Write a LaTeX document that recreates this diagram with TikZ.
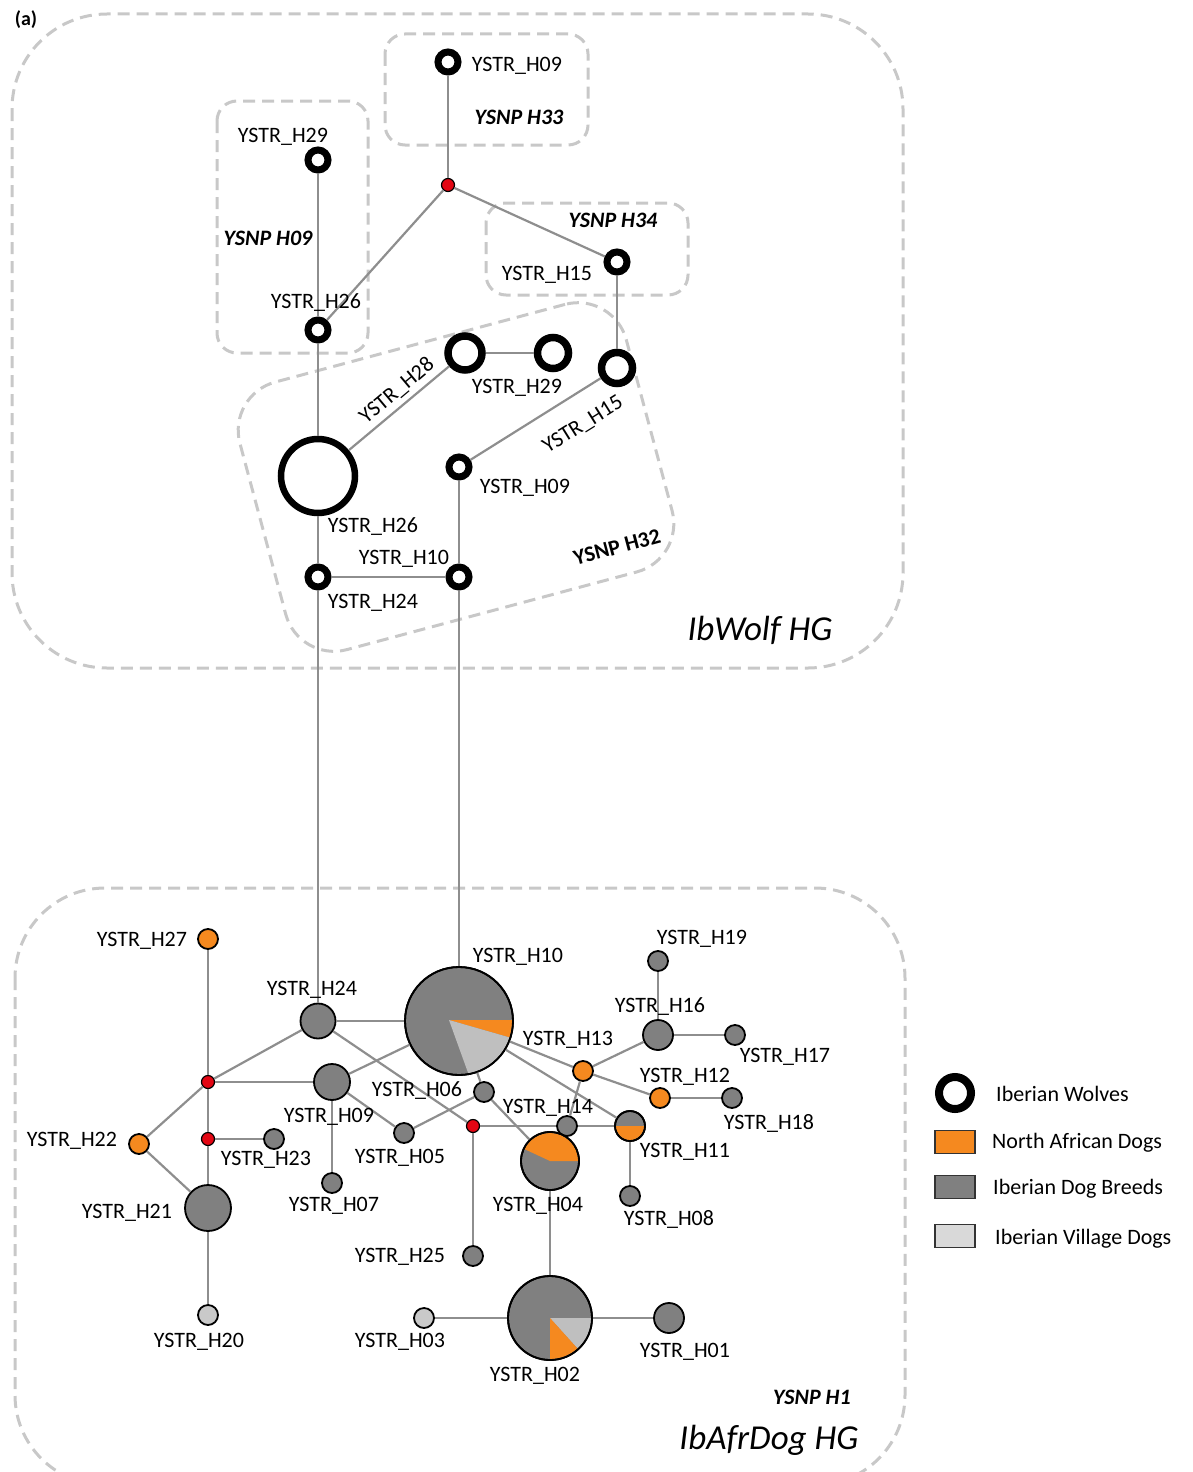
\documentclass[tikz,border=0pt]{standalone}
\usepackage{fontspec}
\usetikzlibrary{calc}
\setmainfont{Carlito}
\definecolor{boxgray}{HTML}{C8C8C8}
\definecolor{edgegray}{HTML}{8E8E8E}
\definecolor{dgray}{HTML}{808080}
\definecolor{lgray}{HTML}{BFBFBF}
\definecolor{vgray}{HTML}{C9C9C9}
\definecolor{leglgray}{HTML}{D9D9D9}
\definecolor{orng}{HTML}{F5891F}
\definecolor{redn}{HTML}{E30613}
\begin{document}
\begin{tikzpicture}[x=1pt,y=-1pt,
  box/.style={draw=boxgray, line width=3pt, dash pattern=on 12pt off 7pt},
  edge/.style={draw=edgegray, line width=2.2pt},
  wolf/.style={circle, draw=black, fill=white, line width=7pt, inner sep=0pt, minimum size=20pt},
  wolfm/.style={wolf, minimum size=31pt, line width=7.5pt},
  dog/.style={circle, draw=black, line width=1.8pt, inner sep=0pt, fill=dgray, minimum size=20pt},
  afr/.style={dog, fill=orng},
  vil/.style={dog, fill=vgray},
  mv/.style={circle, draw=black, line width=1.2pt, inner sep=0pt, fill=redn, minimum size=13pt},
  lbl/.style={font=\fontsize{22}{24}\selectfont, inner sep=0pt},
  snp/.style={font=\fontsize{22}{24}\selectfont\bfseries\itshape, inner sep=0pt},
  hg/.style={font=\fontsize{35}{38}\selectfont\itshape, inner sep=0pt},
  legbox/.style={draw=black!80, line width=1.5pt, minimum width=40pt, minimum height=23pt, inner sep=0pt}
]
\useasboundingbox (0,0) rectangle (1193,1472);

% ---------- group boxes ----------
\draw[box, rounded corners=95pt] (12,14) rectangle (903,668);
\draw[box, rounded corners=90pt] (15,888) rectangle (905,1485);
\draw[box, rounded corners=20pt] (385,34) rectangle (588,145);
\draw[box, rounded corners=20pt] (217,101) rectangle (368,353);
\draw[box, rounded corners=20pt] (486,203) rectangle (688,295);
\node[box, rotate=15, minimum width=400pt, minimum height=277pt, rounded corners=50pt] (h32box) at (456,477) {};

\node[font=\fontsize{20}{22}\selectfont\bfseries, inner sep=0pt] (tag) at (26,20) {(a)};

% ---------- wolf nodes ----------
\node[wolf] (w09t) at (448,62) {};
\node[mv] (r1) at (448,185) {};
\node[wolf] (w29t) at (318,160) {};
\node[wolf] (w26t) at (318,330) {};
\node[wolf] (w15t) at (617,262) {};
\node[wolf, minimum size=74pt, line width=6.5pt] (w26b) at (318,476) {};
\node[wolfm, minimum size=34pt] (w28) at (465,353) {};
\node[wolfm] (w29) at (553,353) {};
\node[wolfm] (w15) at (617,368) {};
\node[wolf] (w09) at (459,467) {};
\node[wolf] (w10) at (459,577) {};
\node[wolf] (w24) at (318,577) {};

% ---------- dog nodes ----------
\node[afr] (d27) at (208,939) {};
\node[mv] (r2) at (208,1082) {};
\node[mv] (r3) at (208,1139) {};
\node[afr] (d22) at (139,1144) {};
\node[dog, minimum size=46pt] (d21) at (208,1208) {};
\node[vil] (d20) at (208,1315) {};
\node[dog] (d23) at (274,1139) {};
\node[dog, minimum size=35pt] (d24) at (318,1021) {};
\node[dog, minimum size=36pt] (d09) at (332,1082) {};
\node[dog] (d07) at (332,1183) {};
\node[dog] (d05) at (404,1133) {};
\node[dog, minimum size=108pt] (d10) at (459,1021) {};
\node[dog] (d06) at (484,1092) {};
\node[mv] (r4) at (473,1126) {};
\node[dog] (d25) at (473,1256) {};
\node[dog] (d14) at (567,1126) {};
\node[dog, minimum size=58pt] (d04) at (550,1161) {};
\node[dog, minimum size=30pt] (d11) at (630,1126) {};
\node[dog] (d08) at (630,1196) {};
\node[afr] (d13) at (583,1071) {};
\node[afr] (d12) at (660,1098) {};
\node[dog] (d18) at (732,1098) {};
\node[dog, minimum size=30pt] (d16) at (658,1035) {};
\node[dog] (d19) at (658,961) {};
\node[dog] (d17) at (735,1035) {};
\node[dog, minimum size=84pt] (d02) at (550,1318) {};
\node[vil] (d03) at (424,1318) {};
\node[dog, minimum size=30pt] (d01) at (669,1318) {};

% ---------- pie wedges ----------
\coordinate (a10) at ($(d10.center)+(-10,-1)$);
\fill[orng] (a10) -- ($(d10.center)+(-1:53)$) arc[start angle=-1, end angle=18, radius=53] -- cycle;
\fill[lgray] (a10) -- ($(d10.center)+(18:53)$) arc[start angle=18, end angle=80, radius=53] -- cycle;
\draw[line width=1.8pt] (d10.center) circle[radius=54];
\fill[orng] (d04.center) -- ++(-155:28) arc[start angle=-155, end angle=0, radius=28] -- cycle;
\draw[line width=1.8pt] (d04.center) circle[radius=29];
\fill[orng] (d11.center) -- ++(0:14) arc[start angle=0, end angle=180, radius=14] -- cycle;
\draw[line width=1.8pt] (d11.center) circle[radius=15];
\fill[lgray] (d02.center) -- ++(0:41) arc[start angle=0, end angle=48, radius=41] -- cycle;
\fill[orng] (d02.center) -- ++(48:41) arc[start angle=48, end angle=90, radius=41] -- cycle;
\draw[line width=1.8pt] (d02.center) circle[radius=42];

% ---------- connectors (upper) ----------
\draw[edge] (w09t) -- (r1);
\draw[edge] (r1) -- (w26t);
\draw[edge] (r1) -- (w15t);
\draw[edge] (w29t) -- (w26t);
\draw[edge] (w26t) -- (w26b);
\draw[edge] (w26b) -- (w28);
\draw[edge] (w28) -- (w29);
\draw[edge] (w15t) -- (w15);
\draw[edge] (w15) -- (w09);
\draw[edge] (w09) -- (w10);
\draw[edge] (w26b) -- (w24);
\draw[edge] (w24) -- (w10);
\draw[edge] (w24) -- (d24);
\draw[edge] (w10) -- (d10);

% ---------- connectors (lower) ----------
\draw[edge] (d27) -- (r2);
\draw[edge] (r2) -- (r3);
\draw[edge] (r3) -- (d21);
\draw[edge] (d21) -- (d20);
\draw[edge] (r2) -- (d22);
\draw[edge] (d22) -- (d21);
\draw[edge] (r3) -- (d23);
\draw[edge] (r2) -- (d24);
\draw[edge] (r2) -- (d09);
\draw[edge] (d24) -- (d10);
\draw[edge] (d09) -- (d10);
\draw[edge] (d24) -- (r4);
\draw[edge] (d09) -- (d05);
\draw[edge] (d09) -- (d07);
\draw[edge] (d05) -- (d06);
\draw[edge] (d06) -- (d10);
\draw[edge] (d06) -- (d04);
\draw[edge] (r4) -- (d14);
\draw[edge] (d14) -- (d11);
\draw[edge] (r4) -- (d25);
\draw[edge] (d10) -- (d13);
\draw[edge] (d10) -- (d11);
\draw[edge] (d13) -- (d14);
\draw[edge] (d13) -- (d16);
\draw[edge] (d13) -- (d12);
\draw[edge] (d12) -- (d18);
\draw[edge] (d16) -- (d19);
\draw[edge] (d16) -- (d17);
\draw[edge] (d11) -- (d08);
\draw[edge] (d04) -- (d02);
\draw[edge] (d03) -- (d02);
\draw[edge] (d02) -- (d01);

% ---------- labels (upper) ----------
\node[lbl] (l1) at (517,66) {YSTR\_H09};
\node[snp] (s33) at (519,117) {YSNP H33};
\node[lbl] (l2) at (283,137) {YSTR\_H29};
\node[snp] (s09) at (268,238) {YSNP H09};
\node[lbl] (l3) at (316,303) {YSTR\_H26};
\node[snp] (s34) at (613,220) {YSNP H34};
\node[lbl] (l4) at (547,275) {YSTR\_H15};
\node[lbl, rotate=40] (l5) at (397,391) {YSTR\_H28};
\node[lbl] (l6) at (517,388) {YSTR\_H29};
\node[lbl, rotate=32] (l7) at (583,425) {YSTR\_H15};
\node[lbl] (l8) at (525,488) {YSTR\_H09};
\node[lbl] (l9) at (373,527) {YSTR\_H26};
\node[lbl] (l10) at (404,559) {YSTR\_H10};
\node[lbl] (l11) at (373,603) {YSTR\_H24};
\node[font=\fontsize{22}{24}\selectfont\bfseries, inner sep=0pt, rotate=15] (s32) at (617,547) {YSNP H32};
\node[hg] (hg1) at (760,630) {IbWolf HG};

% ---------- labels (lower) ----------
\node[lbl] (m27) at (142,941) {YSTR\_H27};
\node[lbl] (m24) at (312,990) {YSTR\_H24};
\node[lbl] (m10) at (518,957) {YSTR\_H10};
\node[lbl] (m19) at (702,939) {YSTR\_H19};
\node[lbl] (m16) at (660,1007) {YSTR\_H16};
\node[lbl] (m13) at (568,1040) {YSTR\_H13};
\node[lbl] (m17) at (785,1057) {YSTR\_H17};
\node[lbl] (m12) at (685,1077) {YSTR\_H12};
\node[lbl] (m06) at (417,1091) {YSTR\_H06};
\node[lbl] (m14) at (548,1108) {YSTR\_H14};
\node[lbl] (m18) at (769,1123) {YSTR\_H18};
\node[lbl] (m09) at (329,1117) {YSTR\_H09};
\node[lbl] (m22) at (72,1141) {YSTR\_H22};
\node[lbl] (m23) at (266,1160) {YSTR\_H23};
\node[lbl] (m05) at (400,1158) {YSTR\_H05};
\node[lbl] (m11) at (685,1152) {YSTR\_H11};
\node[lbl] (m21) at (127,1213) {YSTR\_H21};
\node[lbl] (m07) at (334,1206) {YSTR\_H07};
\node[lbl] (m04) at (538,1206) {YSTR\_H04};
\node[lbl] (m08) at (669,1219) {YSTR\_H08};
\node[lbl] (m25) at (400,1257) {YSTR\_H25};
\node[lbl] (m20) at (199,1342) {YSTR\_H20};
\node[lbl] (m03) at (400,1342) {YSTR\_H03};
\node[lbl] (m01) at (685,1352) {YSTR\_H01};
\node[lbl] (m02) at (535,1376) {YSTR\_H02};
\node[snp] (s1) at (812,1397) {YSNP H1};
\node[hg] (hg2) at (769,1440) {IbAfrDog HG};

% ---------- legend ----------
\node[wolf, minimum size=32pt, line width=8pt] (lg1) at (955,1093) {};
\node[legbox, fill=orng] (lg2) at (955,1142) {};
\node[legbox, fill=dgray] (lg3) at (955,1187) {};
\node[legbox, fill=leglgray] (lg4) at (955,1236) {};
\node[lbl, anchor=west] (lt1) at (996,1094) {Iberian Wolves};
\node[lbl, anchor=west] (lt2) at (992,1143) {North African Dogs};
\node[lbl, anchor=west] (lt3) at (993,1189) {Iberian Dog Breeds};
\node[lbl, anchor=west] (lt4) at (995,1239) {Iberian Village Dogs};
\end{tikzpicture}
\end{document}
